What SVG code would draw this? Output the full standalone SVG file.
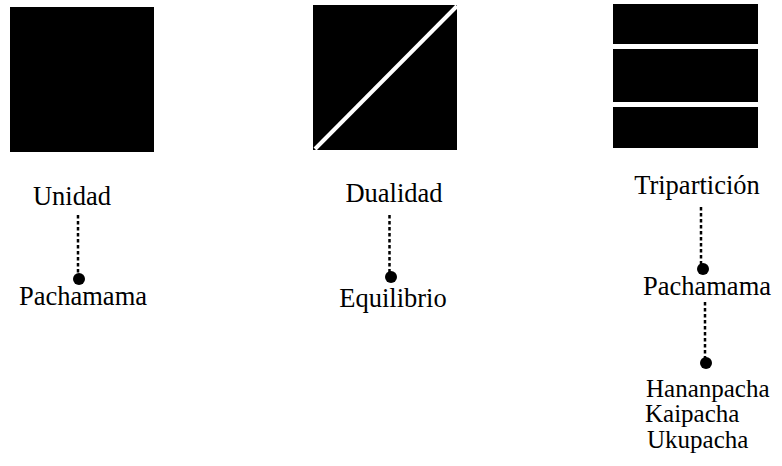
<svg xmlns="http://www.w3.org/2000/svg" width="782" height="466" viewBox="0 0 782 466">
<style>
text{font-family:"Liberation Serif","DejaVu Serif",serif;font-size:26.5px;fill:#000}
.c{text-anchor:middle}
.sm{font-size:25px}
.dl{stroke:#000;stroke-width:2.5;stroke-dasharray:3.5 2.5;fill:none}
.dot{fill:#000}
</style>
<rect width="782" height="466" fill="#fff"/>
<g id="unidad">
<rect x="10" y="7" width="144" height="145" fill="#000"/>
<text class="c" x="72" y="205">Unidad</text>
<text class="c" x="83" y="305">Pachamama</text>
</g>
<g id="dualidad">
<rect x="313" y="5" width="144" height="145" fill="#000"/>
<line x1="315" y1="149" x2="457" y2="6" stroke="#fff" stroke-width="4"/>
<text class="c" x="394" y="202">Dualidad</text>
<text class="c" x="393" y="307">Equilibrio</text>
</g>
<g id="triparticion">
<rect x="613" y="4" width="145" height="40" fill="#000"/>
<rect x="613" y="49" width="145" height="53" fill="#000"/>
<rect x="613" y="107" width="145" height="41" fill="#000"/>
<text class="c" x="697" y="194">Tripartición</text>
<text class="c" x="707" y="295">Pachamama</text>
<text class="sm" x="646" y="397">Hananpacha</text>
<text class="sm" x="645" y="422">Kaipacha</text>
<text class="sm" x="647" y="448">Ukupacha</text>
</g>
<g id="connectors">
<line class="dl" x1="78" y1="215" x2="78" y2="274"/>
<circle class="dot" cx="79" cy="279" r="6"/>
<line class="dl" x1="389.5" y1="215" x2="389.5" y2="272"/>
<circle class="dot" cx="391" cy="277" r="6"/>
<line class="dl" x1="701" y1="207" x2="701" y2="265"/>
<circle class="dot" cx="703" cy="269" r="6"/>
<line class="dl" x1="705" y1="302" x2="705" y2="358"/>
<circle class="dot" cx="706" cy="363" r="6"/>
</g>
</svg>
